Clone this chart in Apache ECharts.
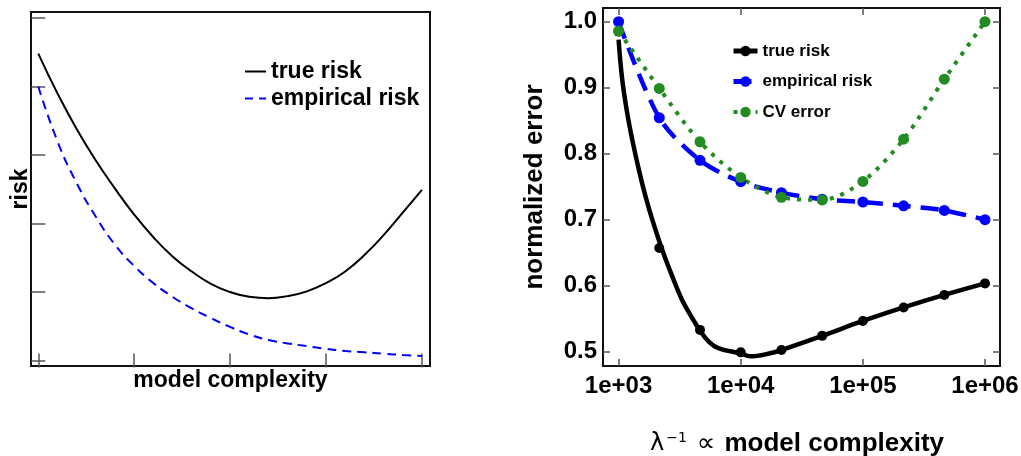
<!DOCTYPE html>
<html>
<head>
<meta charset="utf-8">
<script src="https://cdn.jsdelivr.net/npm/echarts@6/dist/echarts.min.js"></script>
<style>
  html, body { margin: 0; padding: 0; background: #fff; }
  #chart { width: 1021px; height: 456px; }
</style>
</head>
<body>
<div id="chart"></div>
<script>
// ---- Left panel: schematic risk curves vs. model complexity (arbitrary units) ----
const complexity = [0, 0.2, 0.4, 0.6, 0.8, 1.0, 1.2, 1.4, 1.6, 1.8, 2.0, 2.2, 2.4, 2.6, 2.8, 3.0, 3.2, 3.4, 3.6, 3.8, 4.0];
const schematicTrueRisk = [4.48, 3.90, 3.38, 2.92, 2.51, 2.13, 1.80, 1.52, 1.30, 1.12, 1.00, 0.93, 0.91, 0.94, 1.01, 1.13, 1.30, 1.54, 1.83, 2.16, 2.49];
const schematicEmpiricalRisk = [4.00, 3.20, 2.59, 2.10, 1.69, 1.38, 1.13, 0.93, 0.76, 0.62, 0.49, 0.38, 0.30, 0.25, 0.21, 0.17, 0.14, 0.12, 0.10, 0.08, 0.066];
const schematicTicksX = [0, 1, 2, 3, 4];
const schematicTicksY = [0, 1, 2, 3, 4, 5];

// ---- Right panel: normalized error vs. inverse regularization ----
const lambdaInv = [1000, 2154, 4642, 10000, 21544, 46416, 100000, 215443, 464159, 1000000];
const trueRisk = [0.985, 0.657, 0.533, 0.499, 0.5025, 0.524, 0.5465, 0.567, 0.586, 0.6035];
const empiricalRisk = [1.0, 0.8545, 0.790, 0.7576, 0.741, 0.731, 0.7268, 0.721, 0.714, 0.700];
const cvError = [0.986, 0.899, 0.818, 0.764, 0.734, 0.730, 0.758, 0.822, 0.913, 1.0];
// fitted true-risk curve
const trueRiskFitX = [1000, 1072, 1178, 1295, 1469, 1664, 1888, 2279, 2752, 3321, 4009, 4600, 5492, 6626, 9908, 11967, 17418, 21544, 46416, 100000, 215443, 464159, 1000000];
const trueRiskFitY = [0.973, 0.912, 0.861, 0.821, 0.775, 0.735, 0.700, 0.654, 0.614, 0.578, 0.551, 0.533, 0.515, 0.505, 0.4975, 0.493, 0.4975, 0.5025, 0.524, 0.5465, 0.567, 0.586, 0.6035];
const lambdaTicks = [1e3, 1e4, 1e5, 1e6];
const errorTicks = [0.5, 0.6, 0.7, 0.8, 0.9, 1.0];

const FONT = "'Liberation Sans', Arial, Helvetica, sans-serif";
const BLUE = '#0000ff';
const GREEN = '#228b22';
const zip = (xs, ys) => xs.map((x, i) => [x, ys[i]]);
const tick = (values) => ({ show: true, inside: true, length: 7, customValues: values, lineStyle: { color: '#555', width: 1.5 } });
const noLine = { show: false };
const noSplit = { show: false };
const stripSuffix = (n) => n.replace(/ \(schematic\)$/, '');
const hiddenMarker = { color: 'rgba(0,0,0,0)', borderWidth: 0 };

const chart = echarts.init(document.getElementById('chart'), null, { renderer: 'canvas' });

chart.setOption({
  animation: false,
  textStyle: { fontFamily: FONT },
  grid: [
    { left: 31, right: 591, top: 12, bottom: 90, show: true, borderColor: '#111', borderWidth: 2, containLabel: false, outerBoundsMode: 'none' },
    { left: 603, right: 21, top: 8, bottom: 90, show: true, borderColor: '#111', borderWidth: 2, containLabel: false, outerBoundsMode: 'none' }
  ],
  xAxis: [
    {
      gridIndex: 0, type: 'value', position: 'bottom', min: -0.076, max: 4.084,
      axisLine: noLine, splitLine: noSplit, axisTick: tick(schematicTicksX), axisLabel: { show: false },
      name: 'model complexity', nameLocation: 'middle', nameGap: 3,
      nameTextStyle: { fontSize: 23, fontWeight: 'bold', color: '#000', fontFamily: FONT, verticalAlign: 'top' }
    },
    {
      gridIndex: 0, type: 'value', position: 'top', min: -0.076, max: 4.084,
      axisLine: noLine, splitLine: noSplit, axisTick: tick(schematicTicksX), axisLabel: { show: false }
    },
    {
      gridIndex: 1, type: 'log', logBase: 10, position: 'bottom', min: 745.6, max: 1326400,
      axisLine: noLine, splitLine: noSplit, minorTick: { show: false },
      axisTick: tick(lambdaTicks),
      axisLabel: {
        customValues: lambdaTicks, margin: 8, fontSize: 24, fontWeight: 'bold', color: '#000', fontFamily: FONT,
        formatter: (v) => '1e+0' + Math.round(Math.log10(v))
      },
      name: '{l|λ}{s|−1}{p|∝}{b|model complexity}', nameLocation: 'middle', nameGap: 65,
      nameTextStyle: {
        fontSize: 26, fontWeight: 'bold', color: '#000', fontFamily: FONT,
        rich: {
          l: { fontSize: 24, fontWeight: 'normal', fontFamily: 'DejaVu Sans', color: '#000' },
          s: { fontSize: 14, fontWeight: 'normal', fontFamily: 'DejaVu Sans', color: '#000', verticalAlign: 'top', padding: [0, 0, 0, 2] },
          p: { fontSize: 26, fontWeight: 'normal', fontFamily: 'DejaVu Sans', color: '#000', padding: [0, 9, 0, 10] },
          b: { fontSize: 26, fontWeight: 'bold', fontFamily: FONT, color: '#000', padding: [0, 9, 0, 0] }
        }
      }
    },
    {
      gridIndex: 1, type: 'log', logBase: 10, position: 'top', min: 745.6, max: 1326400,
      axisLine: noLine, splitLine: noSplit, minorTick: { show: false },
      axisTick: tick(lambdaTicks), axisLabel: { show: false }
    }
  ],
  yAxis: [
    {
      gridIndex: 0, type: 'value', position: 'left', min: -0.08, max: 5.088,
      axisLine: noLine, splitLine: noSplit, axisTick: tick(schematicTicksY), axisLabel: { show: false },
      name: 'risk', nameLocation: 'middle', nameGap: -1,
      nameTextStyle: { fontSize: 23, fontWeight: 'bold', color: '#000', fontFamily: FONT }
    },
    {
      gridIndex: 0, type: 'value', position: 'right', min: -0.08, max: 5.088,
      axisLine: noLine, splitLine: noSplit, axisTick: tick(schematicTicksY), axisLabel: { show: false }
    },
    {
      gridIndex: 1, type: 'value', position: 'left', min: 0.4783, max: 1.0208,
      axisLine: noLine, splitLine: noSplit, axisTick: tick(errorTicks),
      axisLabel: {
        customValues: errorTicks, margin: 6, fontSize: 24, fontWeight: 'bold', color: '#000', fontFamily: FONT,
        formatter: (v) => v.toFixed(1)
      },
      name: 'normalized error', nameLocation: 'middle', nameGap: 55,
      nameTextStyle: { fontSize: 26, fontWeight: 'bold', color: '#000', fontFamily: FONT }
    },
    {
      gridIndex: 1, type: 'value', position: 'right', min: 0.4783, max: 1.0208,
      axisLine: noLine, splitLine: noSplit, axisTick: tick(errorTicks), axisLabel: { show: false }
    }
  ],
  legend: [
    {
      data: [
        { name: 'true risk (schematic)', itemStyle: hiddenMarker, lineStyle: { width: 2 } },
        { name: 'empirical risk (schematic)', itemStyle: hiddenMarker, lineStyle: { width: 2, type: [8, 6] } }
      ],
      orient: 'vertical', left: 244, top: 58, padding: 0, itemWidth: 21, itemHeight: 14, itemGap: 0,
      formatter: stripSuffix,
      textStyle: { fontSize: 23, fontWeight: 'bold', color: '#000', fontFamily: FONT, lineHeight: 27 }
    },
    {
      data: [
        { name: 'true risk', lineStyle: { width: 5 } },
        { name: 'empirical risk', lineStyle: { width: 5, type: [18, 10] } },
        { name: 'CV error', lineStyle: { width: 4, type: [4, 7] } }
      ],
      orient: 'vertical', left: 731, top: 41, padding: 0, itemWidth: 24, itemHeight: 13, itemGap: 10.5,
      textStyle: { fontSize: 17, fontWeight: 'bold', color: '#000', fontFamily: FONT, lineHeight: 20 }
    }
  ],
  series: [
    {
      name: 'true risk (schematic)', type: 'line', xAxisIndex: 0, yAxisIndex: 0,
      data: zip(complexity, schematicTrueRisk), smooth: true, symbol: 'none',
      lineStyle: { color: '#000', width: 2 }, itemStyle: { color: '#000' }
    },
    {
      name: 'empirical risk (schematic)', type: 'line', xAxisIndex: 0, yAxisIndex: 0,
      data: zip(complexity, schematicEmpiricalRisk), smooth: true, symbol: 'none',
      lineStyle: { color: BLUE, width: 2, type: [9, 6] }, itemStyle: { color: BLUE }
    },
    {
      name: 'true risk', type: 'line', xAxisIndex: 2, yAxisIndex: 2,
      data: zip(trueRiskFitX, trueRiskFitY), smooth: 0.4, showSymbol: false,
      symbol: 'circle', symbolSize: 10,
      lineStyle: { color: '#000', width: 4.5 }, itemStyle: { color: '#000' }
    },
    {
      name: 'true risk', type: 'scatter', xAxisIndex: 2, yAxisIndex: 2,
      data: zip(lambdaInv, trueRisk), symbol: 'circle', symbolSize: 10,
      itemStyle: { color: '#000', opacity: 1 }
    },
    {
      name: 'empirical risk', type: 'line', xAxisIndex: 2, yAxisIndex: 2,
      data: zip(lambdaInv, empiricalRisk), smooth: 0.3,
      symbol: 'circle', symbolSize: 11, showAllSymbol: true,
      lineStyle: { color: BLUE, width: 4.5, type: [18, 10] }, itemStyle: { color: BLUE }
    },
    {
      name: 'CV error', type: 'line', xAxisIndex: 2, yAxisIndex: 2,
      data: zip(lambdaInv, cvError), smooth: 0.3,
      symbol: 'circle', symbolSize: 11, showAllSymbol: true,
      lineStyle: { color: GREEN, width: 4, type: [4, 7] }, itemStyle: { color: GREEN }
    }
  ]
});
</script>
</body>
</html>
